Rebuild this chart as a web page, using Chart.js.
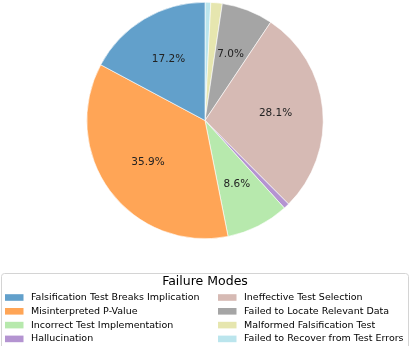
<!DOCTYPE html>
<html>
<head>
<meta charset="utf-8">
<script src="https://cdn.jsdelivr.net/npm/chart.js@4"></script>
<style>
  html, body { margin: 0; padding: 0; background: #fff; }
  #pie { display: block; }
</style>
</head>
<body>
<canvas id="pie" width="410" height="346"></canvas>
<script>
// Failure mode counts (pie drawn counter-clockwise from the top, like matplotlib)
const categories = [
    'Falsification Test Breaks Implication',
    'Misinterpreted P-Value',
    'Incorrect Test Implementation',
    'Hallucination',
    'Ineffective Test Selection',
    'Failed to Locate Relevant Data',
    'Malformed Falsification Test',
    'Failed to Recover from Test Errors'
];
const counts = [22, 46, 11, 1, 36, 9, 2, 1];
const colors = ['#62a0cb', '#ffa556', '#b7e9ad', '#b494d1', '#d6bab4', '#a5a5a5', '#e6e6af', '#bbe5ed'];
const legendTitle = 'Failure Modes';

const FONT = '"DejaVu Sans", Verdana, sans-serif';
const total = counts.reduce((a, b) => a + b, 0);

// Chart.js goes clockwise, so feed it the reversed order
const chartLabels = categories.slice().reverse();
const chartValues = counts.slice().reverse();
const chartColors = colors.slice().reverse();

// percentage text inside the bigger slices
const pctLabels = {
    id: 'pctLabels',
    afterDatasetsDraw(chart) {
        const ctx = chart.ctx;
        const meta = chart.getDatasetMeta(0);
        ctx.save();
        ctx.font = '10.5px ' + FONT;
        ctx.fillStyle = '#222';
        ctx.textAlign = 'center';
        ctx.textBaseline = 'middle';
        meta.data.forEach((arc, i) => {
            const v = chartValues[i];
            const pct = v / total * 100;
            if (pct < 5) return;
            const p = arc.getProps(['startAngle', 'endAngle', 'outerRadius', 'x', 'y'], true);
            const mid = (p.startAngle + p.endAngle) / 2;
            const r = p.outerRadius * 0.6;
            ctx.fillText(pct.toFixed(1) + '%', p.x + Math.cos(mid) * r, p.y + Math.sin(mid) * r);
        });
        ctx.restore();
    }
};

// boxed two-column legend under the pie
const legendBox = {
    id: 'legendBox',
    afterDraw(chart) {
        const ctx = chart.ctx;
        ctx.save();
        ctx.strokeStyle = '#d4d4d4';
        ctx.lineWidth = 1;
        ctx.beginPath();
        ctx.roundRect(1.5, 273.5, 407, 90, 3);
        ctx.stroke();

        ctx.fillStyle = '#000';
        ctx.textAlign = 'center';
        ctx.textBaseline = 'middle';
        ctx.font = '12.5px ' + FONT;
        ctx.fillText(legendTitle, 205, 281.5);

        ctx.font = '9.5px ' + FONT;
        ctx.textAlign = 'left';
        const colX = [5, 218];
        categories.forEach((name, i) => {
            const col = Math.floor(i / 4), row = i % 4;
            const y = 297.5 + row * 13.8;
            ctx.fillStyle = colors[i];
            ctx.fillRect(colX[col], y - 3.3, 18.5, 6.6);
            ctx.fillStyle = '#000';
            ctx.fillText(name, colX[col] + 26, y);
        });
        ctx.restore();
    }
};

new Chart(document.getElementById('pie'), {
    type: 'pie',
    data: {
        labels: chartLabels,
        datasets: [{
            data: chartValues,
            backgroundColor: chartColors,
            borderColor: '#ffffff',
            borderWidth: 0.6
        }]
    },
    options: {
        responsive: false,
        devicePixelRatio: 1,
        animation: false,
        layout: { padding: { top: 2, bottom: 107, left: 0, right: 0 } },
        plugins: {
            legend: { display: false },
            tooltip: { enabled: false }
        }
    },
    plugins: [pctLabels, legendBox]
});
</script>
</body>
</html>
